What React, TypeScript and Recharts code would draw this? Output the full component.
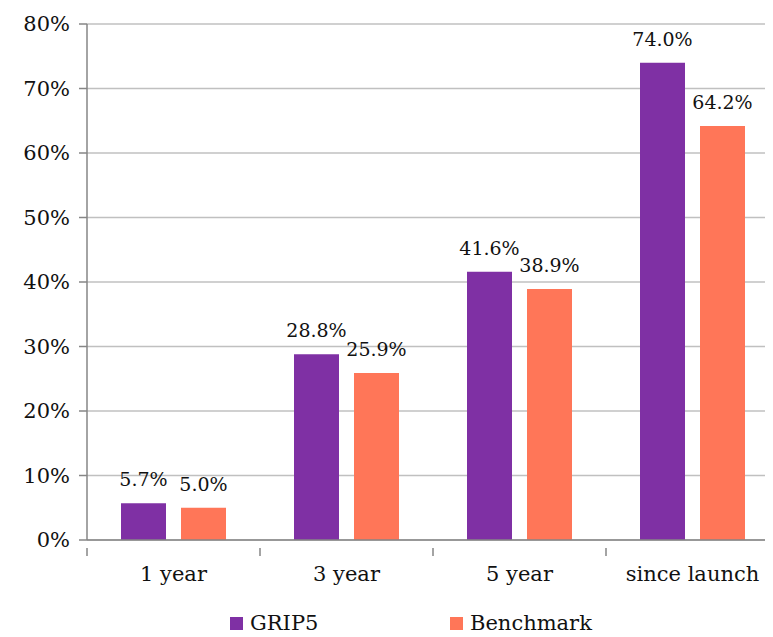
import { BarChart, Bar, XAxis, YAxis, CartesianGrid, Legend, LabelList } from "recharts";

const periods = ["1 year", "3 year", "5 year", "since launch"];
const grip5 = [5.7, 28.8, 41.6, 74.0];
const benchmark = [5.0, 25.9, 38.9, 64.2];
const yTicks = [0, 10, 20, 30, 40, 50, 60, 70, 80];
const seriesOrder = ["GRIP5", "Benchmark"];

const data = periods.map((p, i) => ({ period: p, grip5: grip5[i], benchmark: benchmark[i] }));

const FONT = "'DejaVu Serif', serif";
const PURPLE = "#7F30A4";
const ORANGE = "#FF7658";
const BAND = 692 / periods.length;

const XTick = (props: any) => {
  const { x, y, payload } = props;
  return (
    <g>
      <line x1={x - BAND / 2} x2={x - BAND / 2} y1={y} y2={y + 8} stroke="#868686" strokeWidth={1.5} />
      <text x={x} y={y + 33} textAnchor="middle" fontFamily={FONT} fontSize={21} fill="#111">
        {payload.value}
      </text>
    </g>
  );
};

const LegendBox = (props: any) => {
  const items = [...(props.payload || [])].sort(
    (a: any, b: any) => seriesOrder.indexOf(a.value) - seriesOrder.indexOf(b.value)
  );
  return (
    <div style={{ display: "flex", boxSizing: "border-box", paddingLeft: 222, paddingTop: 4, height: 30, fontFamily: FONT, fontSize: 21, color: "#111" }}>
      {items.map((it: any) => (
        <div key={it.value} style={{ display: "flex", alignItems: "center", width: 220, height: 24 }}>
          <span style={{ display: "inline-block", width: 13, height: 13, background: it.color, marginRight: 7 }} />
          <span>{it.value}</span>
        </div>
      ))}
    </div>
  );
};

const fmt = (v: any) => `${Number(v).toFixed(1)}%`;
const labelStyle = { fontFamily: FONT, fontSize: 19, fill: "#111" };

export default function App() {
  return (
    <div style={{ width: 765, height: 629, overflow: "hidden" }}>
      <BarChart
        width={771}
        height={629}
        data={data}
        margin={{ top: 16, right: 0, left: 0, bottom: 0 }}
        barCategoryGap={34}
        barGap={15}
      >
        <CartesianGrid vertical={false} stroke="#C0C0C0" strokeWidth={1.5} />
        <XAxis
          dataKey="period"
          tick={<XTick />}
          tickLine={false}
          axisLine={{ stroke: "#868686", strokeWidth: 1.5 }}
          height={67}
          interval={0}
        />
        <YAxis
          domain={[0, 80]}
          ticks={yTicks}
          width={79}
          tickFormatter={(v: number) => `${v}%`}
          tick={{ fontFamily: FONT, fontSize: 21, fill: "#111" }}
          tickSize={8}
          tickMargin={9}
          tickLine={{ stroke: "#868686", strokeWidth: 1.5 }}
          axisLine={{ stroke: "#868686", strokeWidth: 1.5 }}
        />
        <Legend verticalAlign="bottom" content={<LegendBox />} />
        <Bar dataKey="grip5" name="GRIP5" fill={PURPLE} isAnimationActive={false}>
          <LabelList dataKey="grip5" position="top" offset={17} formatter={fmt} style={labelStyle} />
        </Bar>
        <Bar dataKey="benchmark" name="Benchmark" fill={ORANGE} isAnimationActive={false}>
          <LabelList dataKey="benchmark" position="top" offset={17} formatter={fmt} style={labelStyle} />
        </Bar>
      </BarChart>
    </div>
  );
}
